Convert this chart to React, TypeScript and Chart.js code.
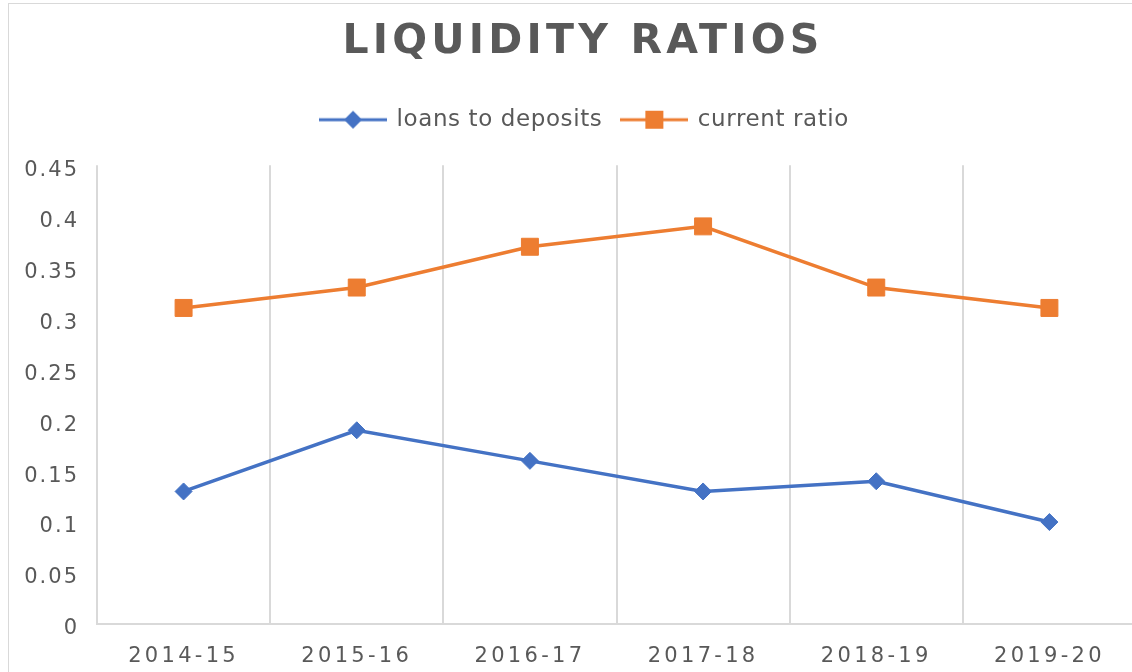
import React, { useEffect, useRef } from 'react';
import { Chart, registerables } from 'chart.js';

Chart.register(...registerables);

// ---- data ----
const categories = ['2014-15', '2015-16', '2016-17', '2017-18', '2018-19', '2019-20'];
const loansToDeposits = [0.13, 0.19, 0.16, 0.13, 0.14, 0.1];
const currentRatio = [0.31, 0.33, 0.37, 0.39, 0.33, 0.31];
const yTickValues = [0, 0.05, 0.1, 0.15, 0.2, 0.25, 0.3, 0.35, 0.4, 0.45];
const seriesNames = ['loans to deposits', 'current ratio'];
const titleText = 'LIQUIDITY RATIOS';

// ---- styles ----
const BLUE = '#4472C4';
const ORANGE = '#ED7D31';
const TEXT = '#595959';
const GRID = '#d9d9d9';
const FONT = '"DejaVu Sans", sans-serif';
const CANVAS_W = 1148;
const CANVAS_H = 700;
const LEGEND_HEIGHT = 77;

function makeLegendIcon(color: string, shape: 'diamond' | 'square') {
  const c = document.createElement('canvas');
  c.width = 68;
  c.height = 22;
  const g = c.getContext('2d')!;
  g.strokeStyle = color;
  g.lineWidth = 3;
  g.beginPath();
  g.moveTo(0, 11);
  g.lineTo(68, 11);
  g.stroke();
  g.fillStyle = color;
  if (shape === 'diamond') {
    g.beginPath();
    g.moveTo(34, 2);
    g.lineTo(43, 11);
    g.lineTo(34, 20);
    g.lineTo(25, 11);
    g.closePath();
    g.fill();
  } else {
    g.fillRect(25, 2, 18, 18);
  }
  return c;
}

const spacingPlugin = {
  id: 'letterSpacingPlugin',
  beforeLayout(chart: any) {
    const ctx = chart.ctx;
    const wrap = (obj: any, method: string, ls: string) => {
      if (!obj || obj['__w_' + method]) return;
      const orig = obj[method];
      obj[method] = function (...args: any[]) {
        ctx.save();
        ctx.letterSpacing = ls;
        try {
          return orig.apply(this, args);
        } finally {
          ctx.restore();
        }
      };
      obj['__w_' + method] = true;
    };
    wrap(chart.titleBlock, 'draw', '4.2px');
    wrap(chart.legend, 'draw', '0.6px');
    const lg = chart.legend;
    if (lg && !lg.__fitPatched) {
      const origFit = lg.fit;
      lg.fit = function () {
        ctx.save();
        ctx.letterSpacing = '0.6px';
        try {
          origFit.call(this);
        } finally {
          ctx.restore();
        }
        this.height = LEGEND_HEIGHT;
        if (this.lineWidths && this.lineWidths.length) this.lineWidths[0] -= 4;
      };
      lg.__fitPatched = true;
    }
    wrap(chart.scales.x, 'drawLabels', '3.3px');
    wrap(chart.scales.y, 'drawLabels', '2px');
  },
};

export default function App() {
  const ref = useRef<HTMLCanvasElement>(null);

  useEffect(() => {
    if (!ref.current) return;
    const icons = [makeLegendIcon(BLUE, 'diamond'), makeLegendIcon(ORANGE, 'square')];
    const chart = new Chart(ref.current, {
      type: 'line',
      data: {
        labels: categories,
        datasets: [
          {
            label: seriesNames[0],
            data: loansToDeposits,
            borderColor: BLUE,
            backgroundColor: BLUE,
            borderWidth: 3.5,
            pointStyle: 'rectRot',
            pointRadius: 8.5,
            pointBorderWidth: 1,
            pointBackgroundColor: BLUE,
            pointBorderColor: BLUE,
            tension: 0,
          },
          {
            label: seriesNames[1],
            data: currentRatio,
            borderColor: ORANGE,
            backgroundColor: ORANGE,
            borderWidth: 3.5,
            pointStyle: 'rect',
            pointRadius: 12,
            pointBorderWidth: 1,
            pointBackgroundColor: ORANGE,
            pointBorderColor: ORANGE,
            tension: 0,
          },
        ],
      },
      options: {
        responsive: false,
        animation: false,
        devicePixelRatio: 1,
        events: [],
        layout: { padding: { left: 0, right: 0, top: 0, bottom: 0 } },
        plugins: {
          title: {
            display: true,
            text: titleText,
            color: TEXT,
            font: { family: FONT, size: 41, weight: 'bold', lineHeight: 1.2 },
            padding: { top: 14, bottom: 21 },
          },
          legend: {
            display: true,
            position: 'top',
            labels: {
              usePointStyle: true,
              pointStyleWidth: 64,
              padding: 20,
              color: TEXT,
              font: { family: FONT, size: 23 },
              generateLabels: (c: any) => {
                const items = (Chart.defaults.plugins.legend.labels as any).generateLabels(c);
                items.forEach((it: any, i: number) => {
                  it.pointStyle = icons[i];
                });
                return items;
              },
            },
          },
          tooltip: { enabled: false },
        },
        scales: {
          x: {
            type: 'category',
            offset: true,
            grid: { display: true, offset: true, color: GRID, lineWidth: 2, drawTicks: false },
            border: { display: true, color: GRID, width: 2 },
            ticks: {
              color: TEXT,
              font: { family: FONT, size: 21 },
              padding: 20,
              maxRotation: 0,
              autoSkip: false,
            },
            afterFit: (s: any) => {
              s.height = 80;
            },
          },
          y: {
            type: 'linear',
            position: 'left',
            min: 0,
            max: 0.45,
            grid: { display: false, drawTicks: false },
            border: { display: false },
            ticks: {
              color: TEXT,
              font: { family: FONT, size: 21 },
              padding: 18,
              labelOffset: 5,
              callback: (v: any) => String(Number(Number(v).toFixed(2))),
            },
            afterBuildTicks: (s: any) => {
              s.ticks = yTickValues.map((v) => ({ value: v }));
            },
            afterFit: (s: any) => {
              s.width = 88;
            },
          },
          rightSpacer: {
            type: 'linear',
            position: 'right',
            min: 0,
            max: 0.45,
            grid: { display: false, drawTicks: false },
            border: { display: false },
            ticks: { display: false },
            afterFit: (s: any) => {
              s.width = 21;
            },
          },
        },
      },
      plugins: [spacingPlugin],
    } as any);
    return () => chart.destroy();
  }, []);

  return (
    <div
      style={{
        position: 'fixed',
        left: 0,
        top: 0,
        width: 1132,
        height: 672,
        overflow: 'hidden',
        background: '#fff',
      }}
    >
      <div
        style={{
          position: 'absolute',
          left: 8,
          top: 3,
          width: CANVAS_W,
          height: CANVAS_H,
          border: '1px solid #d9d9d9',
        }}
      >
        <canvas
          ref={ref}
          width={CANVAS_W}
          height={CANVAS_H}
          style={{ display: 'block', width: CANVAS_W, height: CANVAS_H }}
        />
      </div>
    </div>
  );
}
